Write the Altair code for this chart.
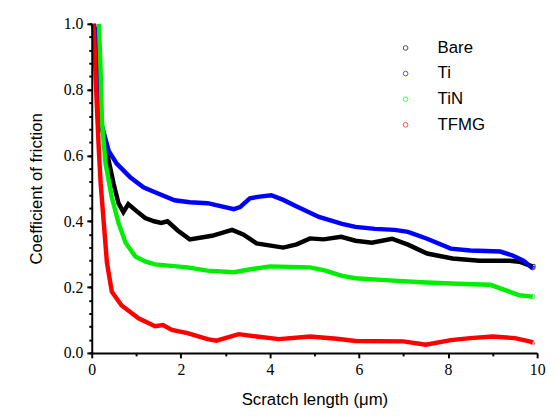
import altair as alt
import pandas as pd

series_names = ["Bare", "Ti", "TiN", "TFMG"]
series_colors = ["#000000", "#0000ff", "#00ee00", "#ff0000"]
series_shapes = ["square", "triangle-down", "circle", "triangle-up"]

bare_x = [0.08, 0.15, 0.25, 0.38, 0.49, 0.6, 0.71, 0.82, 0.98, 1.2, 1.4, 1.56, 1.7, 1.93, 2.2, 2.7, 3.15, 3.4, 3.7, 4.3, 4.6, 4.9, 5.2, 5.6, 5.92, 6.29, 6.74, 7.1, 7.53, 8.1, 8.7, 9.38, 9.6, 9.9]
bare_y = [0.99, 0.74, 0.67, 0.584, 0.515, 0.455, 0.428, 0.452, 0.434, 0.41, 0.40, 0.395, 0.40, 0.372, 0.345, 0.356, 0.374, 0.36, 0.333, 0.32, 0.33, 0.348, 0.345, 0.353, 0.341, 0.335, 0.347, 0.329, 0.302, 0.287, 0.28, 0.28, 0.277, 0.262]

ti_x = [0.05, 0.09, 0.16, 0.23, 0.38, 0.56, 0.87, 1.16, 1.42, 1.86, 2.2, 2.6, 3.19, 3.33, 3.55, 3.77, 4.03, 4.3, 4.59, 5.1, 5.62, 5.92, 6.36, 6.8, 7.1, 7.53, 8.06, 8.5, 9.17, 9.45, 9.7, 9.9]
ti_y = [1.0, 0.96, 0.733, 0.689, 0.614, 0.575, 0.533, 0.503, 0.488, 0.464, 0.458, 0.455, 0.437, 0.443, 0.47, 0.475, 0.479, 0.465, 0.446, 0.413, 0.392, 0.383, 0.377, 0.374, 0.368, 0.347, 0.317, 0.311, 0.308, 0.296, 0.28, 0.257]

tin_x = [0.16, 0.2, 0.23, 0.31, 0.45, 0.6, 0.76, 0.98, 1.2, 1.42, 2.15, 2.6, 3.19, 3.6, 4.0, 4.9, 5.25, 5.62, 5.92, 6.5, 7.4, 8.2, 8.95, 9.3, 9.6, 9.9]
tin_y = [1.0, 0.85, 0.70, 0.575, 0.473, 0.395, 0.335, 0.293, 0.278, 0.269, 0.26, 0.25, 0.245, 0.255, 0.263, 0.26, 0.25, 0.234, 0.227, 0.222, 0.215, 0.21, 0.207, 0.19, 0.175, 0.171]

tfmg_x = [0.03, 0.05, 0.09, 0.12, 0.16, 0.2, 0.27, 0.34, 0.45, 0.67, 1.05, 1.42, 1.6, 1.8, 2.15, 2.6, 2.8, 3.3, 3.7, 4.2, 4.9, 5.5, 5.92, 7.0, 7.5, 8.06, 8.5, 9.0, 9.5, 9.9]
tfmg_y = [1.0, 0.97, 0.83, 0.733, 0.614, 0.515, 0.395, 0.275, 0.186, 0.144, 0.105, 0.081, 0.085, 0.07, 0.06, 0.042, 0.037, 0.057, 0.05, 0.042, 0.05, 0.043, 0.036, 0.035, 0.025, 0.039, 0.045, 0.05, 0.045, 0.033]

x_major_ticks = [0, 2, 4, 6, 8, 10]
x_minor_ticks = [1, 3, 5, 7, 9]
y_major_ticks = [0.0, 0.2, 0.4, 0.6, 0.8, 1.0]
y_minor_ticks = [round(i * 0.04, 2) for i in range(26)]

rows = []
for name, xs, ys in zip(series_names, [bare_x, ti_x, tin_x, tfmg_x], [bare_y, ti_y, tin_y, tfmg_y]):
    n = len(xs)
    for i, (a, b) in enumerate(zip(xs, ys)):
        rows.append({"series": name, "line": name, "x": a, "y": b, "last": i == n - 1})
df = pd.DataFrame(rows)

xscale = alt.Scale(domain=[0, 10], nice=False)
yscale = alt.Scale(domain=[0, 1], nice=False)

common = dict(grid=False, ticks=True, tickColor="black", tickWidth=2, labelOverlap=False, zindex=1)

x_axis = alt.Axis(
    values=x_major_ticks, format="d", tickSize=5,
    domain=True, domainColor="black", domainWidth=2,
    title="Scratch length (\u03bcm)", titlePadding=14, **common,
)
y_axis = alt.Axis(
    values=y_major_ticks, format=".1f", tickSize=5,
    domain=True, domainColor="black", domainWidth=2,
    title="Coefficient of friction", titlePadding=18, **common,
)
x_axis_minor = alt.Axis(
    values=x_minor_ticks, tickSize=3, labels=False, domain=False, title=None, orient="bottom", **common,
)
y_axis_minor = alt.Axis(
    values=y_minor_ticks, tickSize=3, labels=False, domain=False, title=None, orient="left", **common,
)

leg = alt.Legend(
    title=None, orient="none", legendX=310, legendY=16, padding=0,
    labelFont="Liberation Sans", labelFontSize=17, labelColor="#000000",
    symbolSize=22, symbolStrokeWidth=1, labelOffset=24, rowPadding=8,
)

lines = alt.Chart(df).mark_line(strokeWidth=4.5).encode(
    x=alt.X("x:Q", scale=xscale, axis=x_axis),
    y=alt.Y("y:Q", scale=yscale, axis=y_axis),
    stroke=alt.Stroke("line:N", scale=alt.Scale(domain=series_names, range=series_colors), legend=None),
    order=alt.Order("x:Q"),
)

pts = alt.Chart(df).transform_filter("datum.last").mark_point(filled=False, size=22, strokeWidth=1).encode(
    x=alt.X("x:Q", scale=xscale, axis=x_axis_minor),
    y=alt.Y("y:Q", scale=yscale, axis=y_axis_minor),
    color=alt.Color("series:N", scale=alt.Scale(domain=series_names, range=series_colors), legend=leg),
    shape=alt.Shape("series:N", scale=alt.Scale(domain=series_names, range=series_shapes), legend=None),
)

chart = alt.layer(lines, pts).resolve_scale(x="independent", y="independent", color="independent").properties(
    width=452, height=334,
    autosize=alt.AutoSizeParams(type="none"),
    padding={"left": 85, "top": 13, "right": 10, "bottom": 63},
).configure_view(stroke=None).configure_axis(
    labelFont="Liberation Serif", labelFontSize=16, labelColor="#000000", labelPadding=4,
    titleFont="Liberation Sans", titleFontSize=17, titleFontWeight="normal", titleColor="#000000",
    labelFlush=False,
)

chart.save("out.html", embed_options={"renderer": "svg", "actions": False})
